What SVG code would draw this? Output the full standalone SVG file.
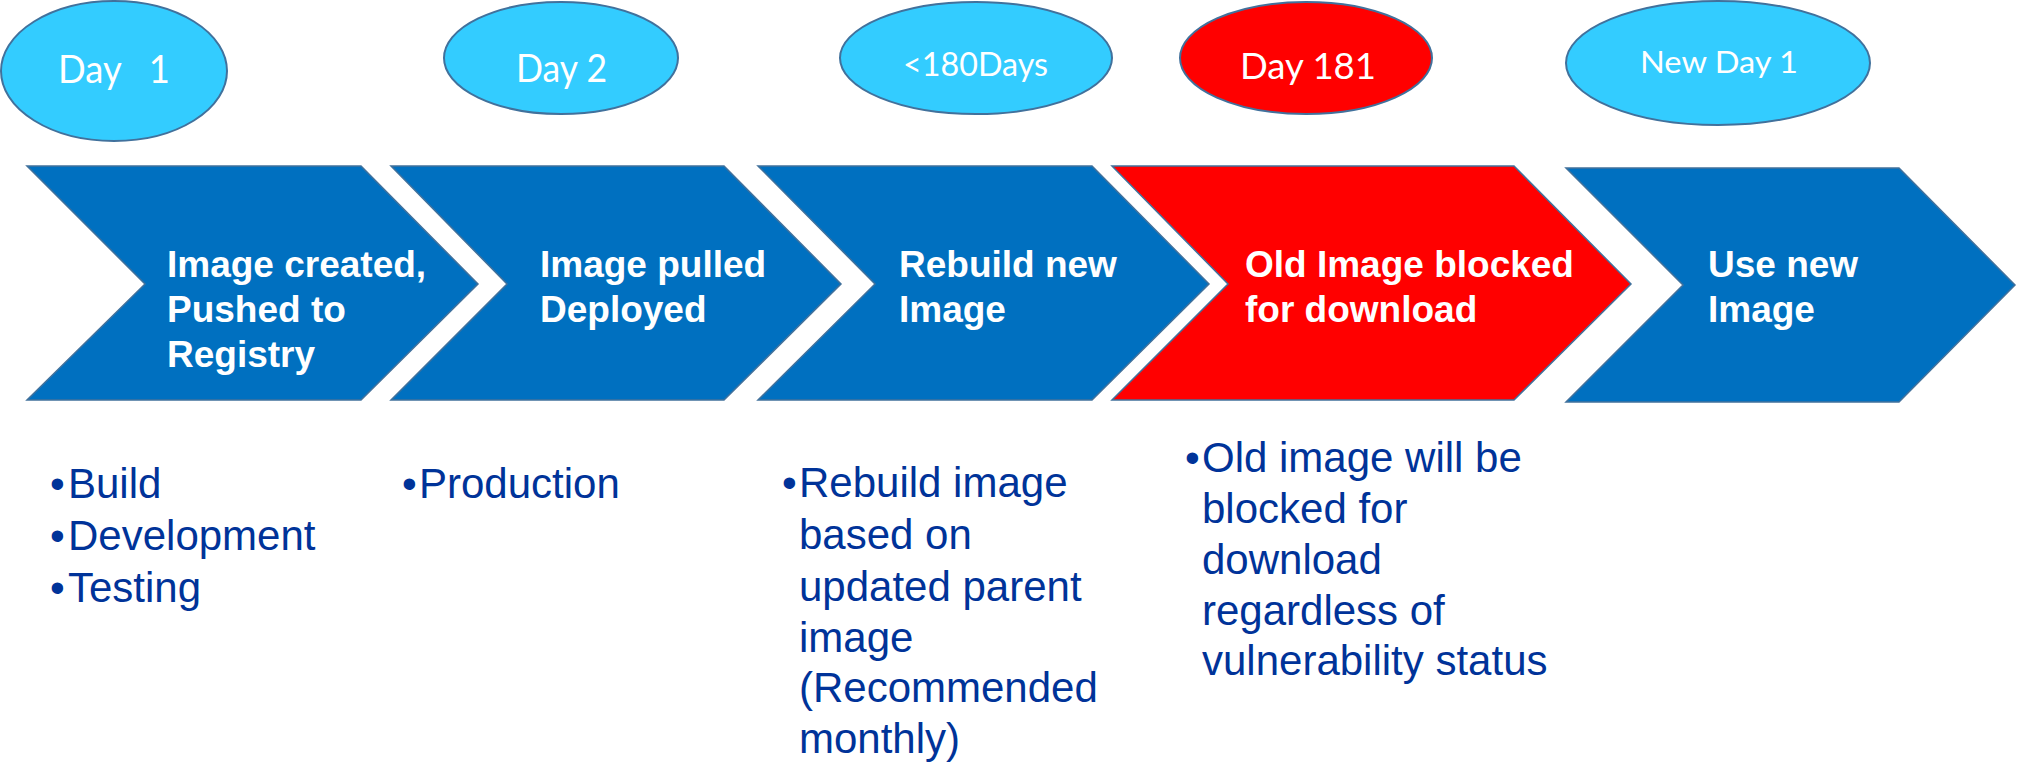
<svg xmlns="http://www.w3.org/2000/svg" width="2017" height="764" viewBox="0 0 2017 764">
  <style>
    .oval { stroke: #41719C; stroke-width: 2; }
    .oval-blue { fill: #33CCFF; }
    .oval-red { fill: #FF0000; }
    .oval-label { font-family: Lato, "Open Sans", "Liberation Sans", sans-serif; fill: #FFFFFF; white-space: pre; }
    .step { stroke: #41719C; stroke-width: 1.5; stroke-linejoin: miter; }
    .step-blue { fill: #0070C0; }
    .step-red { fill: #FF0000; }
    .step-label { font-family: "Liberation Sans", Arial, sans-serif; font-weight: bold; font-size: 37px; fill: #FFFFFF; }
    .notes { font-family: "Liberation Sans", Arial, sans-serif; font-size: 42px; fill: #003399; }
  </style>

  <rect width="2017" height="764" fill="#FFFFFF"/>

  <!-- milestone ovals -->
  <g id="day1">
    <ellipse class="oval oval-blue" cx="114" cy="71" rx="113" ry="70"/>
    <text class="oval-label" x="58" y="83" font-size="38" textLength="112" lengthAdjust="spacingAndGlyphs" xml:space="preserve">Day   1</text>
  </g>
  <g id="day2">
    <ellipse class="oval oval-blue" cx="561" cy="58" rx="117" ry="56"/>
    <text class="oval-label" x="516" y="82" font-size="38" textLength="91" lengthAdjust="spacingAndGlyphs">Day 2</text>
  </g>
  <g id="under180">
    <ellipse class="oval oval-blue" cx="976" cy="58" rx="136" ry="56"/>
    <text class="oval-label" x="903" y="76" font-size="32" textLength="145" lengthAdjust="spacingAndGlyphs">&lt;180Days</text>
  </g>
  <g id="day181">
    <ellipse class="oval oval-red" cx="1306" cy="58" rx="126" ry="56"/>
    <text class="oval-label" x="1240" y="79" font-size="36" textLength="136" lengthAdjust="spacingAndGlyphs">Day 181</text>
  </g>
  <g id="newday1">
    <ellipse class="oval oval-blue" cx="1718" cy="63" rx="152" ry="62"/>
    <text class="oval-label" x="1640" y="73" font-size="31" textLength="158" lengthAdjust="spacingAndGlyphs">New Day 1</text>
  </g>

  <!-- process chevrons -->
  <g id="step-created">
    <polygon class="step step-blue" points="27,166 361,166 478,284 361,400 27,400 145,284"/>
    <text class="step-label" x="167" y="277">Image created,</text>
    <text class="step-label" x="167" y="322">Pushed to</text>
    <text class="step-label" x="167" y="367">Registry</text>
  </g>
  <g id="step-deployed">
    <polygon class="step step-blue" points="391,166 724,166 841,284 724,400 391,400 507,284"/>
    <text class="step-label" x="540" y="277">Image pulled</text>
    <text class="step-label" x="540" y="322">Deployed</text>
  </g>
  <g id="step-rebuild">
    <polygon class="step step-blue" points="758,166 1092,166 1209,284 1092,400 758,400 875,284"/>
    <text class="step-label" x="899" y="277">Rebuild new</text>
    <text class="step-label" x="899" y="322">Image</text>
  </g>
  <g id="step-blocked">
    <polygon class="step step-red" points="1112,166 1514,166 1631,284 1514,400 1112,400 1228,284"/>
    <text class="step-label" x="1245" y="277">Old Image blocked</text>
    <text class="step-label" x="1245" y="322">for download</text>
  </g>
  <g id="step-use-new">
    <polygon class="step step-blue" points="1566,168 1899,168 2015,285 1899,402 1566,402 1683,285"/>
    <text class="step-label" x="1708" y="277">Use new</text>
    <text class="step-label" x="1708" y="322">Image</text>
  </g>

  <!-- notes under each step -->
  <g id="notes-created" class="notes">
    <text x="50" y="498">•</text><text x="68" y="498">Build</text>
    <text x="50" y="550">•</text><text x="68" y="550">Development</text>
    <text x="50" y="602">•</text><text x="68" y="602">Testing</text>
  </g>
  <g id="notes-deployed" class="notes">
    <text x="402" y="498">•</text><text x="419" y="498">Production</text>
  </g>
  <g id="notes-rebuild" class="notes">
    <text x="782" y="497">•</text><text x="799" y="497">Rebuild image</text>
    <text x="799" y="549">based on</text>
    <text x="799" y="601">updated parent</text>
    <text x="799" y="652">image</text>
    <text x="799" y="702">(Recommended</text>
    <text x="799" y="753">monthly)</text>
  </g>
  <g id="notes-blocked" class="notes">
    <text x="1185" y="472">•</text><text x="1202" y="472">Old image will be</text>
    <text x="1202" y="523">blocked for</text>
    <text x="1202" y="574">download</text>
    <text x="1202" y="625">regardless of</text>
    <text x="1202" y="675">vulnerability status</text>
  </g>

  <!-- no connectors: the chevrons themselves carry the flow -->
  <g id="connectors"/>
</svg>
